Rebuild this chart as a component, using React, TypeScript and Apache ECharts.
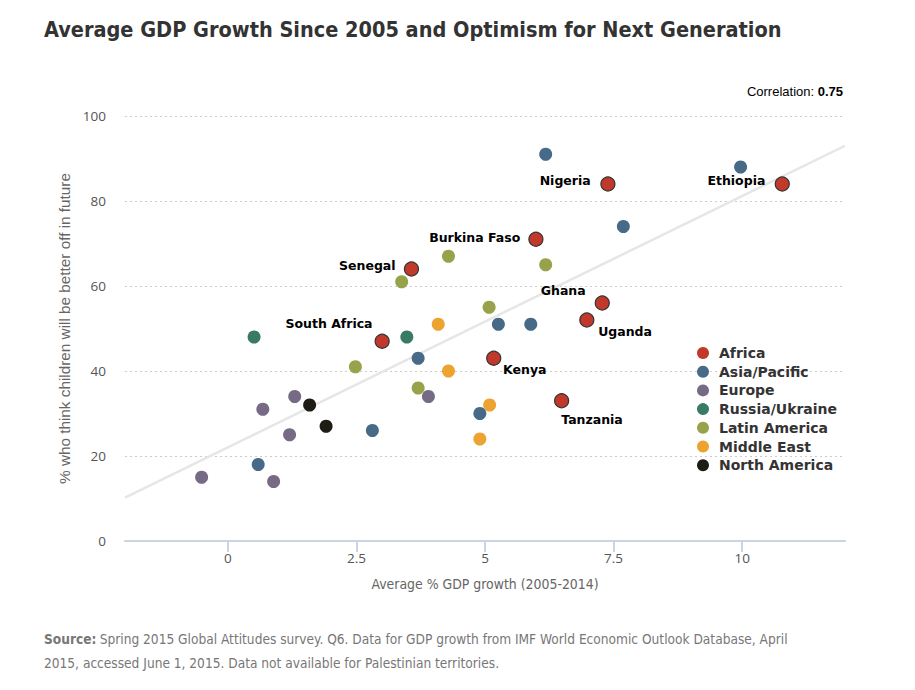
import React, { useEffect, useRef } from 'react';
import * as echarts from 'echarts';

// ---------- DATA ----------
const regions = ['Africa', 'Asia/Pacific', 'Europe', 'Russia/Ukraine', 'Latin America', 'Middle East', 'North America'];

const africaNames = ['Nigeria', 'Ethiopia', 'Burkina Faso', 'Senegal', 'Ghana', 'Uganda', 'South Africa', 'Kenya', 'Tanzania'];
const africaGdp = [7.39, 10.78, 5.99, 3.57, 7.28, 6.98, 3.0, 5.17, 6.49];
const africaOptimism = [84, 84, 71, 64, 56, 52, 47, 43, 33];

const asiaGdp = [6.18, 9.97, 7.69, 5.26, 5.89, 3.7, 2.81, 4.9, 0.59];
const asiaOptimism = [91, 88, 74, 51, 51, 43, 26, 30, 18];

const europeGdp = [3.9, 1.3, 0.68, 1.2, -0.51, 0.89];
const europeOptimism = [34, 34, 31, 25, 15, 14];

const russiaGdp = [0.51, 3.48];
const russiaOptimism = [48, 48];

const latinGdp = [4.29, 3.38, 6.18, 5.08, 2.48, 3.7];
const latinOptimism = [67, 61, 65, 55, 41, 36];

const middleEastGdp = [4.09, 4.29, 5.09, 4.9];
const middleEastOptimism = [51, 40, 32, 24];

const northAmericaGdp = [1.59, 1.91];
const northAmericaOptimism = [32, 27];

const trendGdp = [-2, 12];
const trendOptimism = [10.2, 93.0];

const xTicks = [0, 2.5, 5, 7.5, 10];
const correlation = '0.75';

const titleText = 'Average GDP Growth Since 2005 and Optimism for Next Generation';
const xAxisName = 'Average % GDP growth (2005-2014)';
const yAxisName = '% who think children will be better off in future';
const sourceLine1 = 'Spring 2015 Global Attitudes survey. Q6. Data for GDP growth from IMF World Economic Outlook Database, April';
const sourceLine2 = '2015, accessed June 1, 2015. Data not available for Palestinian territories.';

// ---------- STYLES ----------
const regionColors = ['#c0392b', '#476a89', '#766a84', '#387a66', '#97a24a', '#eca330', '#1f1c16'];

const labelPlacement: Record<string, { side: string; dx: number; dy: number }> = {
  Nigeria: { side: 'left', dx: -9.6, dy: -4 },
  Ethiopia: { side: 'left', dx: -9.3, dy: -4 },
  'Burkina Faso': { side: 'left', dx: -8, dy: -2 },
  Senegal: { side: 'left', dx: -8.3, dy: -4 },
  Ghana: { side: 'left', dx: -9, dy: -12.7 },
  Uganda: { side: 'right', dx: 3.7, dy: 11.7 },
  'South Africa': { side: 'left', dx: -2, dy: -17.4 },
  Kenya: { side: 'right', dx: 1.7, dy: 11.7 },
  Tanzania: { side: 'right', dx: -8, dy: 18.3 },
};

const condensed = "'Liberation Sans Narrow', 'DejaVu Sans Condensed', sans-serif";

function zip(xs: number[], ys: number[]) {
  return xs.map((x, i) => [x, ys[i]]);
}

export default function App() {
  const ref = useRef<HTMLDivElement>(null);

  useEffect(() => {
    if (!ref.current) return;
    const chart = echarts.init(ref.current, null, { renderer: 'svg' });

    const africaData = africaGdp.map((x, i) => {
      const name = africaNames[i];
      const p = labelPlacement[name];
      return {
        name,
        value: [x, africaOptimism[i]],
        label: {
          show: true,
          position: p.side,
          distance: 0,
          offset: [p.dx, p.dy],
          formatter: name,
        },
      };
    });

    const groups = [
      africaData,
      zip(asiaGdp, asiaOptimism),
      zip(europeGdp, europeOptimism),
      zip(russiaGdp, russiaOptimism),
      zip(latinGdp, latinOptimism),
      zip(middleEastGdp, middleEastOptimism),
      zip(northAmericaGdp, northAmericaOptimism),
    ];

    const scatterSeries = regions.map((r, i) => ({
      name: r,
      type: 'scatter',
      data: groups[i],
      symbol: 'circle',
      symbolSize: i === 0 ? 14 : 13,
      z: 3,
      itemStyle: {
        color: regionColors[i],
        opacity: 1,
        borderColor: i === 0 ? '#333333' : 'transparent',
        borderWidth: i === 0 ? 1.2 : 0,
      },
      label: {
        show: false,
        color: '#000',
        fontFamily: "'DejaVu Sans', sans-serif",
        fontWeight: 'bold',
        fontSize: 12.5,
      },
      emphasis: { disabled: true },
    }));

    chart.setOption({
      animation: false,
      backgroundColor: '#ffffff',
      grid: { left: 125, right: 70, top: 116, bottom: 149, containLabel: false },
      legend: {
        data: regions,
        orient: 'vertical',
        left: 692,
        top: 341,
        itemWidth: 12,
        itemHeight: 12,
        itemGap: 4.7,
        icon: 'circle',
        selectedMode: false,
        itemStyle: { borderWidth: 0 },
        textStyle: {
          fontFamily: "'DejaVu Sans', sans-serif",
          fontWeight: 'bold',
          fontSize: 14,
          color: '#333',
          lineHeight: 14,
          padding: [0, 0, 0, 5],
        },
      },
      xAxis: {
        type: 'value',
        min: -2,
        max: 12,
        name: xAxisName,
        nameLocation: 'middle',
        nameGap: 36,
        nameTextStyle: { fontFamily: condensed, fontSize: 13.9, color: '#666' },
        axisLine: { show: true, lineStyle: { color: '#c9d5e2', width: 2 } },
        axisTick: { show: true, length: 11, customValues: xTicks, lineStyle: { color: '#c9d5e2', width: 2 } },
        axisLabel: {
          customValues: xTicks,
          color: '#555',
          fontFamily: "'Open Sans', sans-serif",
          fontSize: 13.5,
          margin: 10,
          formatter: (v: number) => String(v),
        },
        splitLine: { show: false },
      },
      yAxis: {
        type: 'value',
        min: 0,
        max: 100,
        interval: 20,
        name: yAxisName,
        nameLocation: 'middle',
        nameGap: 39,
        nameTextStyle: { fontFamily: "'Liberation Sans', sans-serif", fontSize: 15.3, color: '#666' },
        axisLine: { show: false },
        axisTick: { show: false },
        axisLabel: {
          color: '#555',
          fontFamily: "'Open Sans', sans-serif",
          fontSize: 13.5,
          margin: 19,
        },
        splitLine: { show: true, lineStyle: { type: [2, 3], color: '#cccccc', width: 1 } },
      },
      graphic: [
        {
          type: 'text',
          left: 44,
          top: 18,
          style: {
            text: titleText,
            fontFamily: condensed,
            fontWeight: 'bold',
            fontSize: 21.5,
            fill: '#333',
          },
        },
        {
          type: 'text',
          right: 915 - 843,
          top: 85,
          style: {
            text: '{n|Correlation: }{b|' + correlation + '}',
            rich: {
              n: { fontFamily: "'Liberation Sans', sans-serif", fontSize: 13, fill: '#000' },
              b: { fontFamily: "'Liberation Sans', sans-serif", fontSize: 13, fontWeight: 'bold', fill: '#000' },
            },
          },
        },
        {
          type: 'text',
          left: 44,
          top: 632,
          style: {
            text: '{b|Source:} {n|' + sourceLine1 + '}',
            rich: {
              b: { fontFamily: condensed, fontSize: 13.6, fontWeight: 'bold', fill: '#777' },
              n: { fontFamily: condensed, fontSize: 13.6, fill: '#777' },
            },
          },
        },
        {
          type: 'text',
          left: 44,
          top: 656,
          style: {
            text: sourceLine2,
            fontFamily: condensed,
            fontSize: 13.6,
            fill: '#777',
          },
        },
      ],
      series: [
        {
          name: 'trend',
          type: 'line',
          data: zip(trendGdp, trendOptimism),
          showSymbol: false,
          silent: true,
          z: 1,
          lineStyle: { color: '#e6e6e6', width: 2.5 },
          emphasis: { disabled: true },
        },
        ...scatterSeries,
      ],
    });

    return () => chart.dispose();
  }, []);

  return (
    <div
      ref={ref}
      style={{ position: 'absolute', left: 0, top: 0, width: 915, height: 690 }}
    />
  );
}
